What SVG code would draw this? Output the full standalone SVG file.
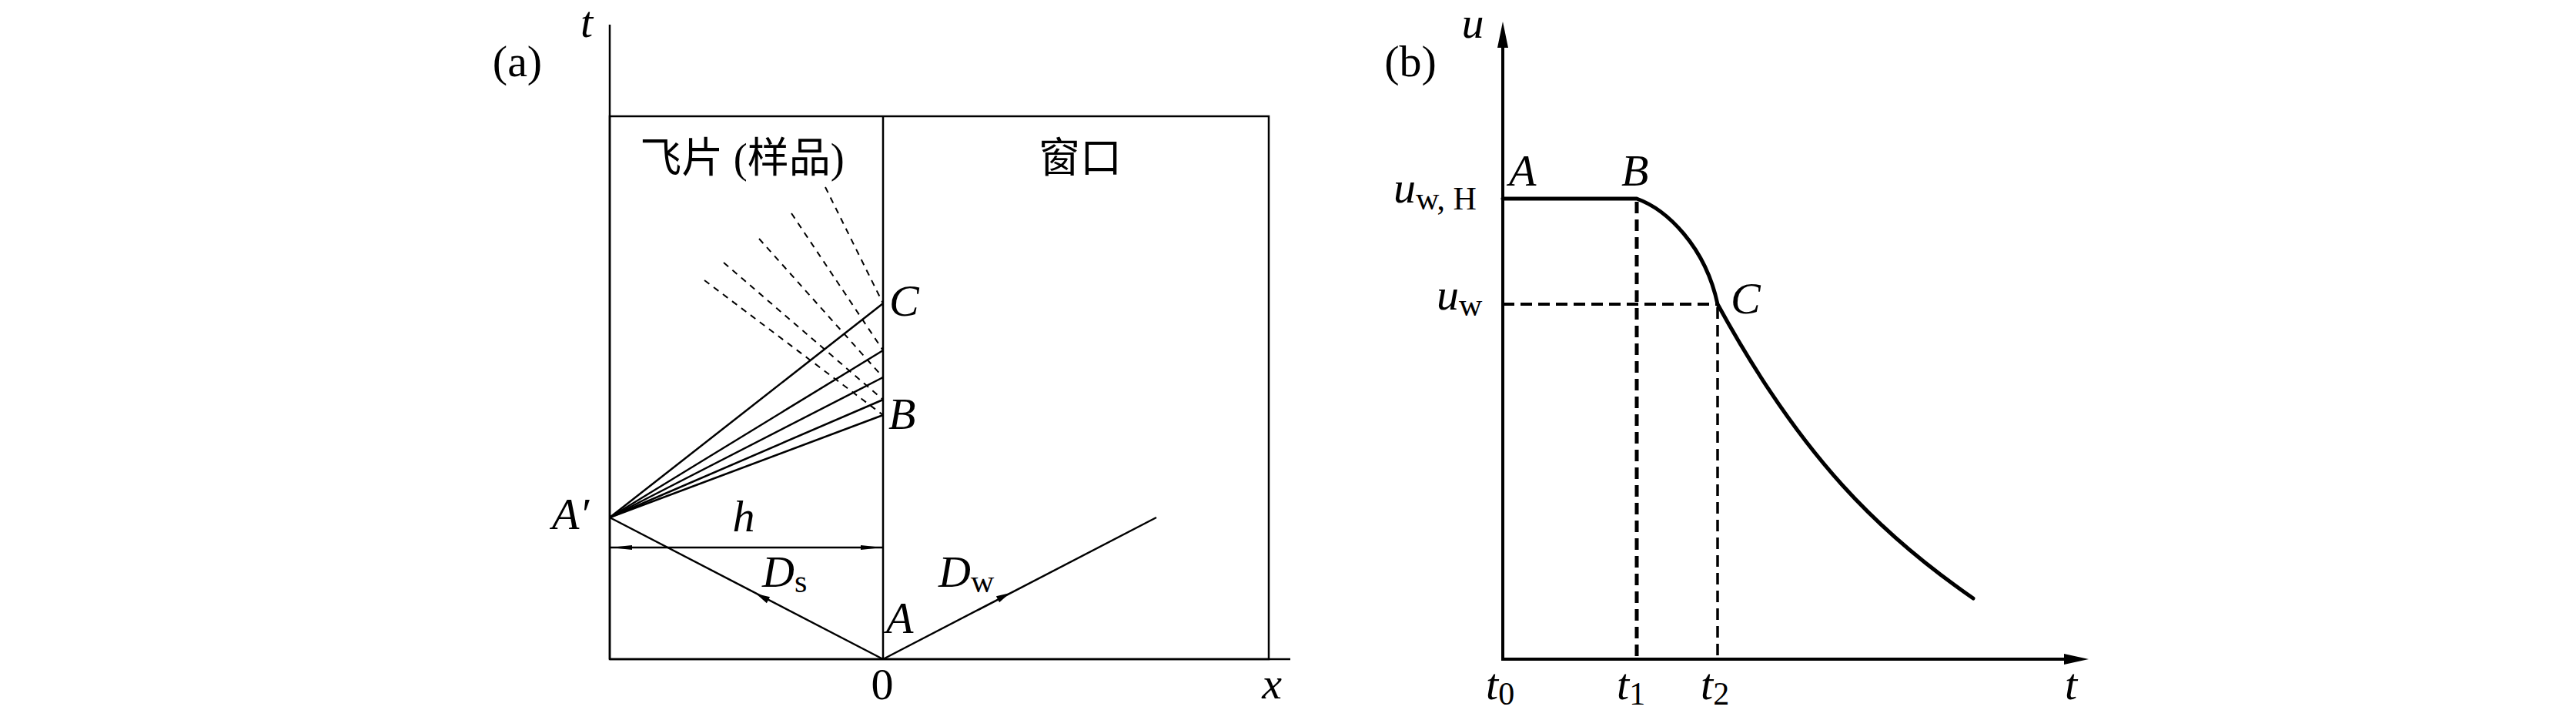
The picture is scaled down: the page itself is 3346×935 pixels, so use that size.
<svg xmlns="http://www.w3.org/2000/svg" width="3346" height="935" viewBox="0 0 3346 935">
<defs>
<style>
.ln{stroke:#000;stroke-width:2.5;fill:none}
.dl{stroke:#000;stroke-width:2;fill:none;stroke-dasharray:8 7}
.ax{stroke:#000;stroke-width:4;fill:none}
.cv{stroke:#000;stroke-width:5;fill:none;stroke-linecap:round}
.db{stroke:#000;fill:none;stroke-dasharray:15 8}
.ah{fill:#000;stroke:none}
.t{font-family:"Liberation Serif","DejaVu Serif",serif;font-size:58px;fill:#000}
.i{font-style:italic}
.s{font-size:42px;font-style:normal}
.cjk{font-family:"Liberation Serif","Noto Sans CJK SC",serif;font-size:54px;fill:#000}
</style>
<marker id="hm" viewBox="0 0 28 8" refX="28" refY="4" markerWidth="28" markerHeight="8" markerUnits="userSpaceOnUse" orient="auto-start-reverse">
<path d="M0,1 L28,4 L0,7 Z" fill="#000"/>
</marker>
</defs>
<rect width="3346" height="935" fill="#fff"/>

<g id="panel-a-frame">
<path class="ln" d="M792,32 V856"/>
<rect class="ln" x="792" y="151" width="856" height="705"/>
<path class="ln" d="M1147,151 V856"/>
<path class="ln" d="M792,856 H1676"/>
</g>

<g id="connectors">
<g id="fan-solid">
<path class="ln" d="M792,672 L1147,394"/>
<path class="ln" d="M792,672 L1147,455"/>
<path class="ln" d="M792,672 L1147,490"/>
<path class="ln" d="M792,672 L1147,519"/>
<path class="ln" d="M792,672 L1147,539"/>
</g>
<g id="fan-dashed">
<path class="dl" d="M1072,243 L1147,394"/>
<path class="dl" d="M1028,277 L1147,455"/>
<path class="dl" d="M986,310 L1147,490"/>
<path class="dl" d="M940,341 L1147,519"/>
<path class="dl" d="M915,364 L1147,539"/>
</g>
<path id="h-dim" class="ln" d="M793,711 H1146" marker-start="url(#hm)" marker-end="url(#hm)"/>
<path id="Ds-line" class="ln" d="M792,672 L1147,856"/>
<polygon class="ah" points="0,0 -18,-4.5 -18,4.5" transform="translate(982,771) rotate(207.5)"/>
<path id="Dw-line" class="ln" d="M1147,856 L1502,672"/>
<polygon class="ah" points="0,0 -18,-4.5 -18,4.5" transform="translate(1312,770) rotate(-27.3)"/>

<g id="panel-b-lines">
<path class="ax" d="M1952,60 V856 H2683"/>
<polygon class="ah" points="1952,28 1945,62 1959,62"/>
<polygon class="ah" points="2713,856 2681,849 2681,863"/>
<path class="db" stroke-width="5" d="M2126,262 V856"/>
<path class="db" stroke-width="3.5" d="M2231,399 V856"/>
<path class="db" stroke-width="4" d="M1952,395 H2231"/>
<path class="cv" d="M1952,258 H2126 C2165,272 2215,320 2231,395 C2341,596 2443,694 2563,777"/>
</g>
</g>

<g id="labels-a">
<text class="t" x="672" y="99" text-anchor="middle">(a)</text>
<text class="t i" x="762" y="48" text-anchor="middle">t</text>
<text class="cjk" x="964" y="224" text-anchor="middle">飞片 (样品)</text>
<text class="cjk" x="1403" y="224" text-anchor="middle">窗口</text>
<text class="t i" x="1155" y="410">C</text>
<text class="t i" x="1154" y="557">B</text>
<text class="t i" x="717" y="687">A′</text>
<text class="t i" x="966" y="690" text-anchor="middle">h</text>
<text class="t i" x="990" y="762">D<tspan class="s" dy="7">s</tspan></text>
<text class="t i" x="1219" y="762">D<tspan class="s" dy="7">w</tspan></text>
<text class="t i" x="1151" y="822">A</text>
<text class="t" x="1146" y="908" text-anchor="middle">0</text>
<text class="t i" x="1652" y="907" text-anchor="middle">x</text>
</g>

<g id="labels-b">
<text class="t" x="1832" y="99" text-anchor="middle">(b)</text>
<text class="t i" x="1913" y="49" text-anchor="middle">u</text>
<text class="t i" x="1960" y="241">A</text>
<text class="t i" x="2106" y="241">B</text>
<text class="t i" x="1810" y="263">u<tspan class="s" dy="9">w, H</tspan></text>
<text class="t i" x="1866" y="402">u<tspan class="s" dy="8">w</tspan></text>
<text class="t i" x="2248" y="407">C</text>
<text class="t i" x="1930" y="908">t<tspan class="s" dy="7">0</tspan></text>
<text class="t i" x="2100" y="908">t<tspan class="s" dy="7">1</tspan></text>
<text class="t i" x="2209" y="908">t<tspan class="s" dy="7">2</tspan></text>
<text class="t i" x="2690" y="908" text-anchor="middle">t</text>
</g>
</svg>
